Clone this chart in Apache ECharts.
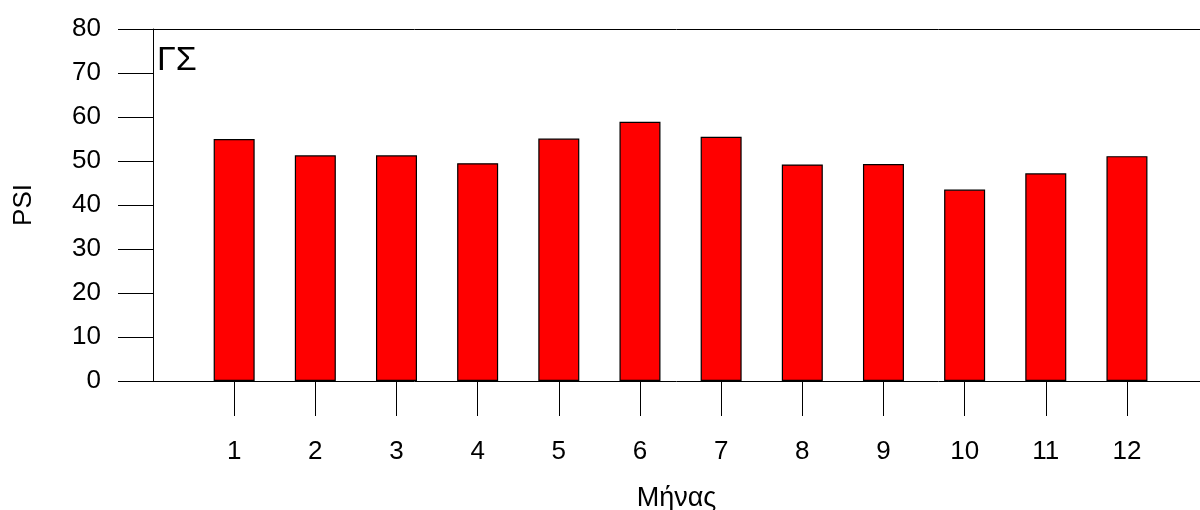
<!DOCTYPE html>
<html>
<head>
<meta charset="utf-8">
<script src="https://cdn.jsdelivr.net/npm/echarts@6/dist/echarts.min.js"></script>
<style>html,body{margin:0;padding:0;background:#fff}#c{width:1200px;height:510px}</style>
</head>
<body>
<div id="c"></div>
<script>
const months = [1, 2, 3, 4, 5, 6, 7, 8, 9, 10, 11, 12];
const psiValues = [55.0, 51.3, 51.3, 49.5, 55.1, 58.9, 55.5, 49.2, 49.3, 43.5, 47.2, 51.1];
const yTicks = [0, 10, 20, 30, 40, 50, 60, 70, 80];
const panelLabel = 'ΓΣ';
const xName = 'Μήνας';
const yName = 'PSI';

const font = 'Liberation Sans, Arial, sans-serif';
const chart = echarts.init(document.getElementById('c'), null, {renderer: 'canvas'});
chart.setOption({
  animation: false,
  backgroundColor: '#fff',
  grid: {left: 153, right: 0, top: 29, bottom: 129, containLabel: false, outerBoundsMode: 'none'},
  xAxis: [{
    type: 'value', min: 0, max: 12.9, position: 'bottom',
    name: xName, nameLocation: 'middle', nameGap: 104,
    nameTextStyle: {fontFamily: font, fontSize: 27, color: '#000'},
    axisLine: {show: true, onZero: false, lineStyle: {color: '#000', width: 1}},
    axisTick: {show: true, length: 35, customValues: months, lineStyle: {color: '#000', width: 1}},
    axisLabel: {show: true, margin: 58, customValues: months, fontFamily: font, fontSize: 26, color: '#000'},
    splitLine: {show: false}
  }, {
    type: 'value', min: 0, max: 12.9, position: 'top',
    axisLine: {show: true, onZero: false, lineStyle: {color: '#000', width: 1}},
    axisTick: {show: false}, axisLabel: {show: false}, splitLine: {show: false}
  }],
  yAxis: {
    type: 'value', min: 0, max: 80, interval: 10,
    name: yName, nameLocation: 'middle', nameGap: 116, nameRotate: 90,
    nameTextStyle: {fontFamily: font, fontSize: 26, color: '#000'},
    axisLine: {show: true, lineStyle: {color: '#000', width: 1}},
    axisTick: {show: true, length: 35, lineStyle: {color: '#000', width: 1}},
    axisLabel: {margin: 52, fontFamily: font, fontSize: 26, color: '#000',
      customValues: yTicks},
    splitLine: {show: false}
  },
  graphic: [{
    type: 'text', left: 157, top: 44,
    style: {text: panelLabel, fontFamily: font, fontSize: 34, fill: '#000'}
  }],
  series: [{
    type: 'bar', xAxisIndex: 0,
    barWidth: 41,
    data: months.map((m, i) => [m, psiValues[i]]),
    itemStyle: {color: '#ff0000', borderColor: '#000', borderWidth: 1.2}
  }]
});
</script>
</body>
</html>
